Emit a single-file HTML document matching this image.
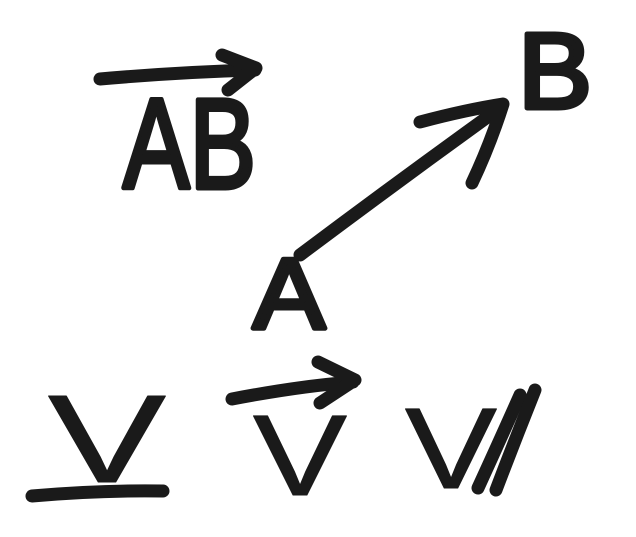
<!DOCTYPE html>
<html>
<head>
<meta charset="utf-8">
<style>
  html,body{margin:0;padding:0;background:#fff;}
  svg{display:block;}
  text{font-family:"Liberation Sans",sans-serif;font-weight:normal;fill:#1a1a1a;stroke:#1a1a1a;stroke-width:5;stroke-linejoin:round;}
  text.v{stroke-width:1;}
  .s{fill:none;stroke:#1a1a1a;stroke-width:13;stroke-linecap:round;stroke-linejoin:round;}
</style>
</head>
<body>
<svg width="636" height="537" viewBox="0 0 636 537">
  <g>
    <path class="s" d="M100 79 Q180 72 255 70"/>
    <path class="s" d="M222 55 L256 68 L228 90"/>
    <text x="123" y="188" font-size="128" textLength="133" lengthAdjust="spacingAndGlyphs">AB</text>
  </g>

  <g>
    <path class="s" d="M300 255 Q400 180 500 108"/>
    <path class="s" d="M420 122 Q465 110 503 104 Q490 145 472 183"/>
    <text x="253" y="328" font-size="100" textLength="72" lengthAdjust="spacingAndGlyphs">A</text>
    <text x="518" y="108" font-size="108" textLength="74" lengthAdjust="spacingAndGlyphs">B</text>
  </g>

  <g>
    <text class="v" x="48" y="482" font-size="125" textLength="118" lengthAdjust="spacingAndGlyphs">V</text>
    <path class="s" d="M32 496 Q100 490 163 491"/>
  </g>

  <g>
    <path class="s" d="M232 399 Q300 386 353 382"/>
    <path class="s" d="M318 362 L355 380 L320 403"/>
    <text class="v" x="253" y="495" font-size="115" textLength="94" lengthAdjust="spacingAndGlyphs">V</text>
  </g>

  <g>
    <text class="v" x="405" y="488" font-size="115" textLength="92" lengthAdjust="spacingAndGlyphs">V</text>
    <path class="s" d="M478 488 Q500 440 520 395"/>
    <path class="s" d="M496 490 Q515 440 535 390"/>
  </g>
</svg>
</body>
</html>
